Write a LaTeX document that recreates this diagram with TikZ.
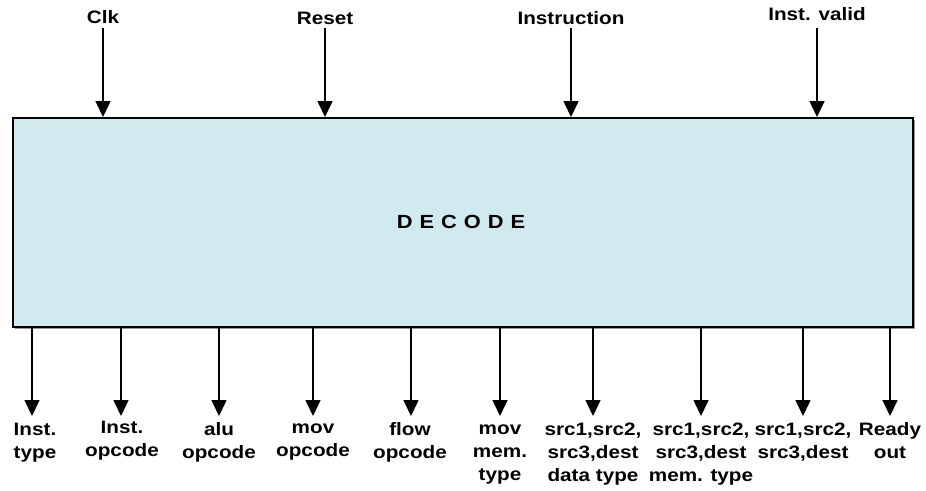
\documentclass[tikz,border=0pt]{standalone}
\usepackage{fontspec}
\setmainfont{Liberation Sans}[FakeStretch=1.15]
\usetikzlibrary{arrows.meta}
\definecolor{boxblue}{RGB}{209,234,240}
\definecolor{shadowgray}{RGB}{150,150,150}
% strut that fixes the height of a label's first line
\newcommand{\firstline}{\rule{0pt}{13pt}}
\begin{document}
\begin{tikzpicture}[x=1pt,y=-1pt,
  sig/.style={-{Triangle[width=15pt,length=16pt]}, line width=1.6pt},
  lbl/.style={font=\bfseries\fontsize{18}{23}\selectfont, align=center,
              inner sep=0pt, anchor=north},
  toplbl/.style={font=\bfseries\fontsize{18}{20}\selectfont, inner sep=0pt, anchor=base},
  blk/.style={draw, line width=2pt, fill=boxblue, minimum width=900pt,
              minimum height=209pt, inner sep=0pt}]
\useasboundingbox (0,0) rectangle (926,490);

% decoder block with a faint drop shadow
\fill[shadowgray] (15,120) rectangle (915,329);
\node[blk] (dec) at (463,222.5) {};
\node[font=\bfseries\fontsize{19}{22}\selectfont] (title) at (461,222)
  {D\hspace{7pt}E\hspace{7pt}C\hspace{7pt}O\hspace{7pt}D\hspace{7pt}E};

% inputs
\node[toplbl] (clk)   at (103,23) {Clk};
\node[toplbl] (rst)   at (325,24) {Reset};
\node[toplbl] (instr) at (571,24) {Instruction};
\node[toplbl] (ival)  at (817,20) {Inst. valid};
\coordinate (c1) at (103,28);
\coordinate (c2) at (325,28);
\coordinate (c3) at (571,28);
\coordinate (c4) at (817,28);
\foreach \c in {c1,c2,c3,c4}
  \draw[sig] (\c) -- (\c |- dec.north);

% outputs
\node[lbl] (o1)  at (35,422)  {\firstline Inst.\\type};
\node[lbl] (o2)  at (122,420) {\firstline Inst.\\opcode};
\node[lbl] (o3)  at (219,422) {\firstline alu\\opcode};
\node[lbl] (o4)  at (313,420) {\firstline mov\\opcode};
\node[lbl] (o5)  at (410,422) {\firstline flow\\opcode};
\node[lbl] (o6)  at (500,421) {\firstline mov\\mem.\\type};
\node[lbl] (o7)  at (593,422) {\firstline src1,src2,\\src3,dest\\data type};
\node[lbl] (o8)  at (701,422) {\firstline src1,src2,\\src3,dest\\mem. type};
\node[lbl] (o9)  at (803,422) {\firstline src1,src2,\\src3,dest};
\node[lbl] (o10) at (890,422) {\firstline Ready\\out};

\coordinate (e1)  at (32,416);
\coordinate (e2)  at (121,416);
\coordinate (e3)  at (219,416);
\coordinate (e4)  at (313,416);
\coordinate (e5)  at (411,416);
\coordinate (e6)  at (500,416);
\coordinate (e7)  at (593,416);
\coordinate (e8)  at (701,416);
\coordinate (e9)  at (803,416);
\coordinate (e10) at (890,416);
\foreach \e in {e1,e2,e3,e4,e5,e6,e7,e8,e9,e10}
  \draw[sig] (\e |- dec.south) -- (\e);
\end{tikzpicture}
\end{document}
